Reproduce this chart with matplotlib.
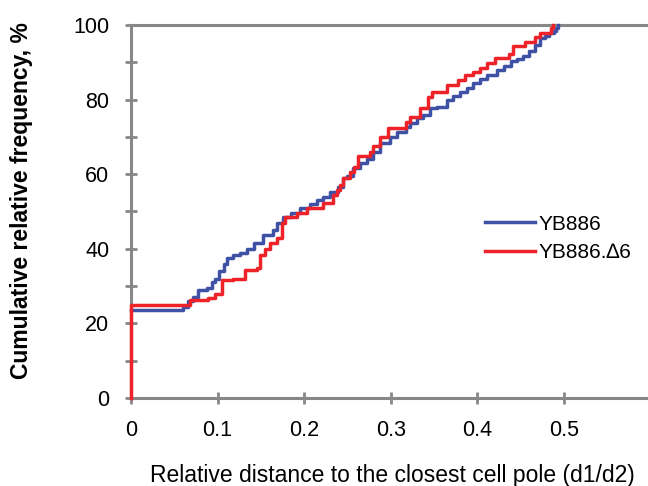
import numpy as np
import matplotlib.pyplot as plt
from matplotlib.ticker import MultipleLocator

plt.rcParams['font.family'] = ['Liberation Sans', 'DejaVu Sans']

# cumulative curves (x = d1/d2, y = %)
yb886_x = [0, 0.053, 0.060, 0.066, 0.072, 0.077, 0.088, 0.093, 0.097, 0.102,
           0.107, 0.111, 0.118, 0.126, 0.134, 0.142, 0.152, 0.164, 0.169, 0.176,
           0.185, 0.195, 0.207, 0.215, 0.222, 0.230, 0.239, 0.245, 0.249, 0.256,
           0.264, 0.272, 0.280, 0.288, 0.299, 0.307, 0.318, 0.322, 0.330, 0.337,
           0.345, 0.353, 0.365, 0.372, 0.380, 0.388, 0.395, 0.403, 0.411, 0.423,
           0.431, 0.439, 0.446, 0.453, 0.460, 0.467, 0.472, 0.478, 0.483, 0.488,
           0.491, 0.493]
yb886_y = [23.5, 23.5, 24.5, 26, 27, 29, 29.5, 31, 32, 34,
           36, 37.5, 38.3, 39, 40, 41.5, 43.7, 45, 47, 48.5,
           49.6, 51, 52, 53, 54, 55.2, 56.6, 59, 59.5, 61.6,
           63, 64, 66, 68.3, 70, 71.3, 72.7, 73.7, 75, 75.9,
           77.7, 78, 80, 81, 82, 83, 84.4, 85.5, 86.6, 88,
           89, 90.3, 91, 91.7, 93, 94.6, 96.5, 97, 97.8, 98.5,
           99.2, 100]

d6_x = [0, 0, 0.060, 0.068, 0.089, 0.097, 0.105, 0.118, 0.132, 0.145,
        0.149, 0.155, 0.161, 0.169, 0.174, 0.178, 0.192, 0.203, 0.222, 0.233,
        0.238, 0.241, 0.245, 0.253, 0.258, 0.262, 0.276, 0.280, 0.288, 0.297,
        0.318, 0.322, 0.334, 0.343, 0.347, 0.365, 0.378, 0.386, 0.395, 0.403,
        0.411, 0.420, 0.437, 0.441, 0.455, 0.467, 0.472, 0.485, 0.487]
d6_y = [0, 25, 25, 26.3, 26.8, 28, 31.6, 32, 34.3, 34.8,
        38.3, 40, 41.5, 42.9, 46.9, 48.5, 49.5, 51, 52.3, 54.4,
        55.8, 57, 59, 60.6, 62, 65, 66, 67.5, 70, 72.4,
        74, 75.3, 77.7, 80.7, 82, 84, 85.3, 86.6, 87.4, 88.5,
        89.8, 91.2, 92.2, 94.5, 95.4, 96.8, 97.8, 99.2, 100]

labels = ['YB886', 'YB886.\u22066']
x_ticks = [0, 0.1, 0.2, 0.3, 0.4, 0.5]
y_ticks = [0, 20, 40, 60, 80, 100]

gray = '#878787'
fs = 15.5

fig = plt.figure(figsize=(6.48, 4.86), dpi=100)
ax = fig.add_axes([131 / 648, 1 - 398 / 486, 1 - 131 / 648, (398 - 25) / 486])

ax.step(yb886_x, yb886_y, where='post', color='#3F51A5', lw=2.5,
        label=labels[0], zorder=3, clip_on=False)
ax.step(d6_x, d6_y, where='post', color='#EE2229', lw=2.5,
        label=labels[1], zorder=4, clip_on=False)

ax.set_xlim(0, 0.597)
ax.set_ylim(0, 100)
ax.set_xticks(x_ticks)
ax.set_xticklabels(['0', '0.1', '0.2', '0.3', '0.4', '0.5'])
ax.set_yticks(y_ticks)
ax.yaxis.set_minor_locator(MultipleLocator(10))

for s in ['left', 'bottom', 'top']:
    ax.spines[s].set_color(gray)
    ax.spines[s].set_linewidth(2.2)
ax.spines['right'].set_visible(False)

ax.tick_params(which='both', direction='inout', length=8.5, width=2,
               color=gray, labelsize=fs, pad=11.5)
ax.tick_params(axis='x', which='both', top=False)

fig.text(22 / 648, 1 - 201 / 486, 'Cumulative relative frequency, %',
         rotation=90, ha='center', va='center', fontsize=16.5, fontweight='bold')
fig.text(392 / 648, 1 - 482 / 486, 'Relative distance to the closest cell pole (d1/d2)',
         ha='center', va='baseline', fontsize=16.5)

ax.legend(loc='center left', bbox_to_anchor=(0.685, 0.428), frameon=False,
          fontsize=15, borderpad=0, borderaxespad=0, handlelength=2.4,
          handletextpad=0.15, labelspacing=0.45)

fig.savefig('out.png', dpi=100)
